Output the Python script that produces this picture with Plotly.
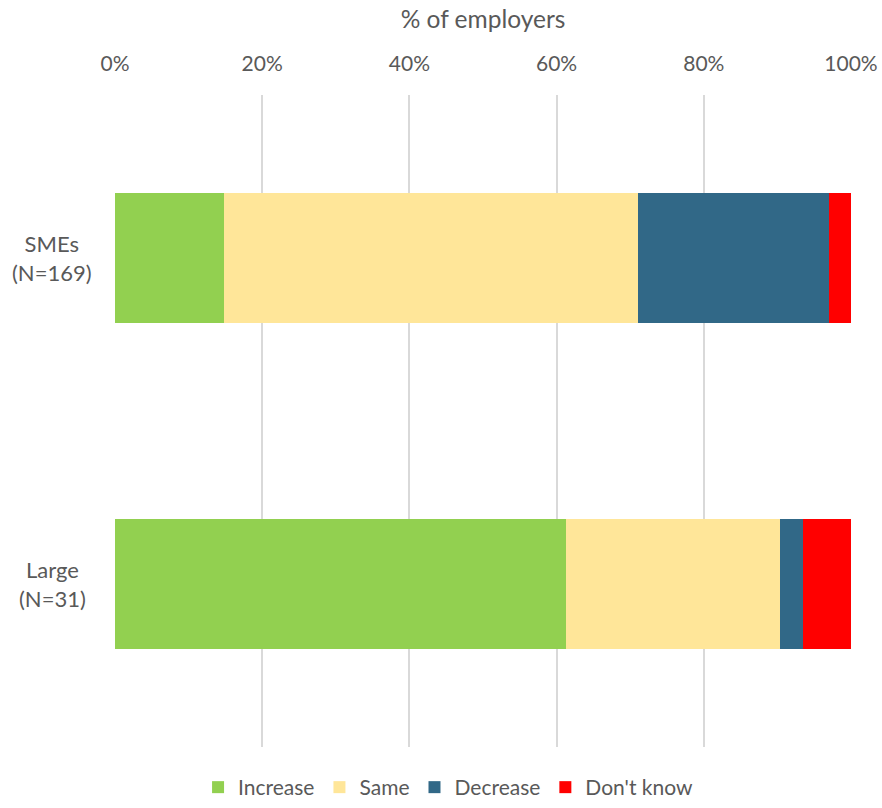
import plotly.graph_objects as go

# Share of employers expecting each change, by employer size
categories = ["SMEs<br>(N=169)", "Large<br>(N=31)"]
series_names = ["Increase", "Same", "Decrease", "Don't know"]
increase = [14.8, 61.3]
same = [56.2, 29.0]
decrease = [26.0, 3.2]
dont_know = [3.0, 6.5]
tick_vals = [0, 20, 40, 60, 80, 100]
tick_text = ["0%", "20%", "40%", "60%", "80%", "100%"]

colors = ["#92D050", "#FFE699", "#316887", "#FF0000"]
values = [increase, same, decrease, dont_know]

fig = go.Figure()
for name, vals, col in zip(series_names, values, colors):
    fig.add_trace(go.Bar(
        y=categories, x=vals, name=name, orientation="h",
        marker=dict(color=col, line=dict(width=0)),
    ))

# Category labels drawn as centred annotations so that both lines are centred
for cat in categories:
    fig.add_annotation(
        xref="paper", yref="y", x=-0.085, y=cat, text=cat,
        showarrow=False, xanchor="center", yanchor="middle", align="center",
        font=dict(size=22, color="#595959"),
    )

font_family = "Lato, 'Open Sans', sans-serif"
fig.update_layout(
    barmode="stack",
    bargap=0.6,
    width=882, height=808,
    margin=dict(l=115, r=31, t=95, b=61, autoexpand=False),
    plot_bgcolor="white", paper_bgcolor="white",
    font=dict(family=font_family, size=21, color="#595959"),
    showlegend=True,
    legend=dict(orientation="h", x=0.508, xref="container", xanchor="center",
                y=-0.01, yref="container", yanchor="bottom",
                traceorder="normal", font=dict(size=21, color="#595959"),
                itemwidth=30, tracegroupgap=0),
    xaxis=dict(
        side="top", range=[0, 100], tickvals=tick_vals, ticktext=tick_text,
        showgrid=True, gridcolor="#D9D9D9", gridwidth=1.5, zeroline=False,
        showline=False, ticks="", ticklabelstandoff=19, automargin=False,
        tickfont=dict(size=21),
        title=dict(text="% of employers", font=dict(size=24.5, color="#595959"), standoff=14),
    ),
    yaxis=dict(
        autorange="reversed", showgrid=False, zeroline=False, showline=False,
        ticks="", showticklabels=False, automargin=False,
    ),
)

fig.write_html("out.html")
